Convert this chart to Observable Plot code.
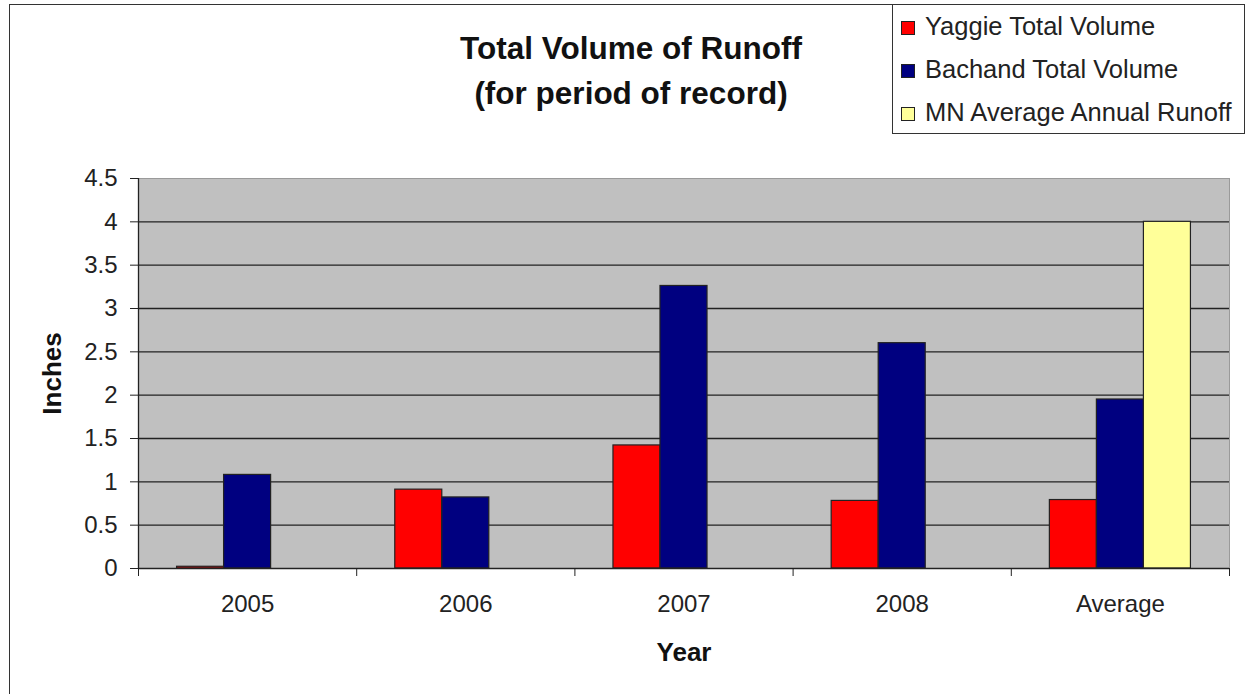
<!DOCTYPE html>
<html>
<head>
<meta charset="utf-8">
<script src="https://cdn.jsdelivr.net/npm/d3@7"></script>
<script src="https://cdn.jsdelivr.net/npm/@observablehq/plot@0.6"></script>
<style>
  html, body { margin: 0; padding: 0; background: #fff; }
  #wrap { position: relative; width: 1245px; height: 694px; overflow: hidden; font-family: "Liberation Sans", Arial, sans-serif; }
  #outer { position: absolute; left: 9px; top: 4px; width: 1300px; height: 800px; border-left: 1.5px solid #333; border-top: 1.5px solid #333; }
  #title { position: absolute; left: 331px; width: 600px; top: 26px; text-align: center; font-weight: bold; font-size: 31.5px; line-height: 45px; color: #111; }
  #legend { position: absolute; left: 892px; top: 4px; width: 351px; height: 128px; border: 1.5px solid #333; background: #fff; }
  .lrow { position: absolute; left: 8px; font-size: 25.5px; line-height: 30px; color: #222; white-space: nowrap; }
  .sw { display: inline-block; width: 12px; height: 12px; border: 1px solid #222; margin-right: 10px; vertical-align: 0px; }
  #chart { position: absolute; left: 0; top: 0; }
</style>
</head>
<body>
<div id="wrap">
  <div id="outer"></div>
  <div id="chart"></div>
  <div id="title">Total Volume of Runoff<br>(for period of record)</div>
  <div id="legend"></div>
</div>
<script>
const categories = ["2005", "2006", "2007", "2008", "Average"];
const series = ["Yaggie Total Volume", "Bachand Total Volume", "MN Average Annual Runoff"];
const seriesColors = ["#FF0000", "#000080", "#FFFF99"];
const yaggie = [0.02, 0.91, 1.42, 0.78, 0.79];
const bachand = [1.08, 0.82, 3.26, 2.60, 1.95];
const mnAverage = [null, null, null, null, 4.0];
const yTicks = [0, 0.5, 1, 1.5, 2, 2.5, 3, 3.5, 4, 4.5];
const yTickLabels = ["0", "0.5", "1", "1.5", "2", "2.5", "3", "3.5", "4", "4.5"];
const yLabel = "Inches";
const xLabel = "Year";

// build rows
const values = [yaggie, bachand, mnAverage];
const slot = 0.2155; // width of one bar as fraction of a category band
const rows = [];
categories.forEach((c, ci) => {
  series.forEach((s, si) => {
    const v = values[si][ci];
    if (v == null) return;
    const x1 = ci + 0.5 - 1.5 * slot + si * slot;
    rows.push({category: c, series: s, value: v, x1, x2: x1 + slot});
  });
});
const boundaries = d3.range(categories.length + 1);
const centers = categories.map((c, i) => i + 0.5);

const plot = Plot.plot({
  width: 1245,
  height: 694,
  marginLeft: 138,
  marginRight: 16,
  marginTop: 178,
  marginBottom: 126,
  style: {fontFamily: "'Liberation Sans', Arial, sans-serif", fontSize: "24px", color: "#222", background: "transparent"},
  x: {type: "linear", domain: [0, categories.length]},
  y: {domain: [0, 4.5]},
  color: {domain: series, range: seriesColors},
  marks: [
    Plot.frame({fill: "#C0C0C0", stroke: "#9a9a9a"}),
    Plot.ruleY(yTicks.filter(d => d > 0 && d < 4.5), {stroke: "#222", strokeWidth: 1.3}),
    Plot.rectY(rows, {x1: "x1", x2: "x2", y: "value", fill: "series", stroke: "#222", strokeWidth: 1.2}),
    Plot.ruleY([0], {stroke: "#222", strokeWidth: 1.3}),
    Plot.ruleX([0], {stroke: "#222", strokeWidth: 1.3}),
    Plot.axisY(yTicks, {tickSize: 8, tickPadding: 13, tickFormat: (d, i) => yTickLabels[i], label: null, fontSize: 24, stroke: "#222"}),
    Plot.axisX(boundaries, {tickSize: 8, tickFormat: () => "", label: null, stroke: "#222"}),
    Plot.axisX(centers, {tickSize: 0, tickPadding: 26, tickFormat: d => categories[Math.floor(d)], label: null, fontSize: 24}),
    Plot.text([yLabel], {frameAnchor: "left", dx: -86, rotate: -90, textAnchor: "middle", lineAnchor: "middle", fontWeight: "bold", fontSize: 26, fill: "#111"}),
    Plot.text([xLabel], {frameAnchor: "bottom", dy: 84, textAnchor: "middle", lineAnchor: "middle", fontWeight: "bold", fontSize: 26, fill: "#111"})
  ]
});
document.getElementById("chart").appendChild(plot);

// legend
const lg = document.getElementById("legend");
series.forEach((s, i) => {
  const row = document.createElement("div");
  row.className = "lrow";
  row.style.top = (6 + i * 43) + "px";
  row.innerHTML = `<span class="sw" style="background:${seriesColors[i]}"></span>${s}`;
  lg.appendChild(row);
});
</script>
</body>
</html>
